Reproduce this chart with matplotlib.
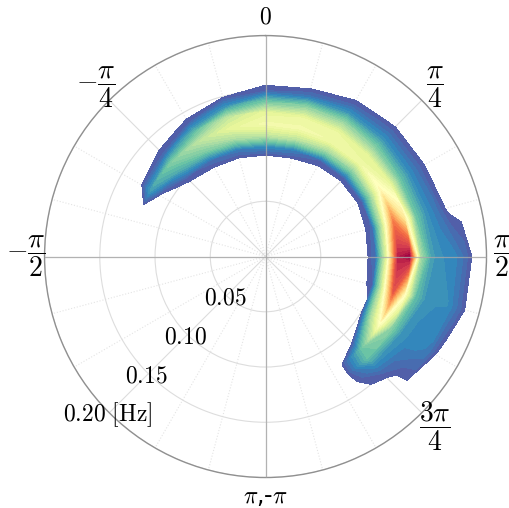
import matplotlib
matplotlib.use("Agg")
import matplotlib.pyplot as plt
import numpy as np

plt.rcParams["mathtext.fontset"] = "cm"

# angle (deg, clockwise from north) and frequency (Hz) of the density grid
theta_deg = [-68, -60, -45, -30, -15, 0, 15, 30, 45, 60, 75, 90, 105, 120, 135, 146]
freq_hz = [0.08, 0.09, 0.10, 0.11, 0.12, 0.13, 0.14, 0.15, 0.16, 0.17, 0.18, 0.19, 0.20]

# normalised density, one row per angle, one column per frequency
density = [
    [0, 0, 0.00, 0.00, 0.00, 0.00, 0.00, 0.00, 0.00, 0.00, 0.00, 0.00, 0],
    [0, 0, 0.00, 0.01, 0.14, 0.01, 0.00, 0.00, 0.00, 0.00, 0.00, 0.00, 0],
    [0, 0, 0.03, 0.16, 0.24, 0.05, 0.00, 0.00, 0.00, 0.00, 0.00, 0.00, 0],
    [0, 0, 0.06, 0.24, 0.33, 0.18, 0.03, 0.00, 0.00, 0.00, 0.00, 0.00, 0],
    [0, 0, 0.08, 0.30, 0.41, 0.34, 0.12, 0.01, 0.00, 0.00, 0.00, 0.00, 0],
    [0, 0, 0.11, 0.34, 0.45, 0.41, 0.22, 0.04, 0.00, 0.00, 0.00, 0.00, 0],
    [0, 0, 0.09, 0.33, 0.45, 0.42, 0.26, 0.07, 0.00, 0.00, 0.00, 0.00, 0],
    [0, 0, 0.04, 0.28, 0.44, 0.42, 0.28, 0.12, 0.03, 0.00, 0.00, 0.00, 0],
    [0, 0, 0.03, 0.25, 0.43, 0.40, 0.24, 0.12, 0.05, 0.00, 0.00, 0.00, 0],
    [0, 0, 0.03, 0.29, 0.52, 0.42, 0.21, 0.11, 0.05, 0.00, 0.00, 0.00, 0],
    [0, 0, 0.05, 0.37, 0.78, 0.58, 0.22, 0.12, 0.07, 0.01, 0.00, 0.00, 0],
    [0, 0, 0.07, 0.42, 0.95, 1.00, 0.30, 0.14, 0.11, 0.10, 0.06, 0.00, 0],
    [0, 0, 0.04, 0.40, 0.85, 0.52, 0.20, 0.12, 0.11, 0.11, 0.06, 0.00, 0],
    [0, 0, 0.00, 0.30, 0.50, 0.26, 0.13, 0.10, 0.10, 0.08, 0.00, 0.00, 0],
    [0, 0, 0.00, 0.01, 0.18, 0.20, 0.10, 0.04, 0.00, 0.00, 0.00, 0.00, 0],
    [0, 0, 0.00, 0.00, 0.00, 0.00, 0.00, 0.00, 0.00, 0.00, 0.00, 0.00, 0],
]

ring_values = [0.05, 0.10, 0.15, 0.20]
ring_labels = ["$0.05$", "$0.10$", "$0.15$", r"$0.20\ [\mathrm{Hz}]$"]
theta_ticks = [0, 45, 90, 135, 180, 270, 315]
theta_labels = [
    "$0$",
    r"$\dfrac{\pi}{4}$",
    r"$\dfrac{\pi}{2}$",
    r"$\dfrac{3\pi}{4}$",
    r"$\pi$,-$\pi$",
    r"$-\dfrac{\pi}{2}$",
    r"$-\dfrac{\pi}{4}$",
]

fig = plt.figure(figsize=(5.1, 5.08), dpi=100)
ax = fig.add_axes([0.0873, 0.06, 0.8667, 0.870], projection="polar")
ax.set_theta_zero_location("N")
ax.set_theta_direction(-1)

T, R = np.meshgrid(np.deg2rad(theta_deg), freq_hz, indexing="ij")
Z = np.asarray(density)
levels = np.linspace(0.02, 1.0, 45)
ax.contourf(T, R, Z, levels=levels, cmap="Spectral_r", vmin=0, vmax=1, zorder=1)

ax.set_ylim(0, 0.2)
ax.set_yticks(ring_values)
ax.set_yticklabels([])
ax.set_xticks(np.deg2rad(np.arange(0, 360, 45)))
ax.set_xticklabels([])
ax.set_xticks(np.deg2rad(np.arange(0, 360, 15)), minor=True)
ax.tick_params(which="both", length=0)
ax.grid(which="major", color="#dddddd", linewidth=0.8, linestyle="-")
ax.grid(which="minor", axis="x", color="#e4e4e4", linewidth=0.8, linestyle=":")
ax.set_axisbelow(True)
ax.spines["polar"].set_color("#909090")
ax.spines["polar"].set_linewidth(1.0)

# darker axis lines on top of the density
for a in [0, 90, 180, 270]:
    ax.plot([np.deg2rad(a)] * 2, [0, 0.2], color="#a8a8a8", lw=0.9, alpha=0.8, zorder=3)

for r, lab in zip(ring_values, ring_labels):
    ax.text(np.deg2rad(225), r + 0.002, lab, ha="center", va="center", fontsize=17, zorder=4)

for a, lab in zip(theta_ticks, theta_labels):
    size = 20 if "frac" in lab else 17
    dist = 1.07 if a == 90 else 1.085
    ax.text(np.deg2rad(a), 0.2 * dist, lab, ha="center", va="center", fontsize=size,
            clip_on=False, zorder=4)

fig.savefig("out.png", dpi=100)
